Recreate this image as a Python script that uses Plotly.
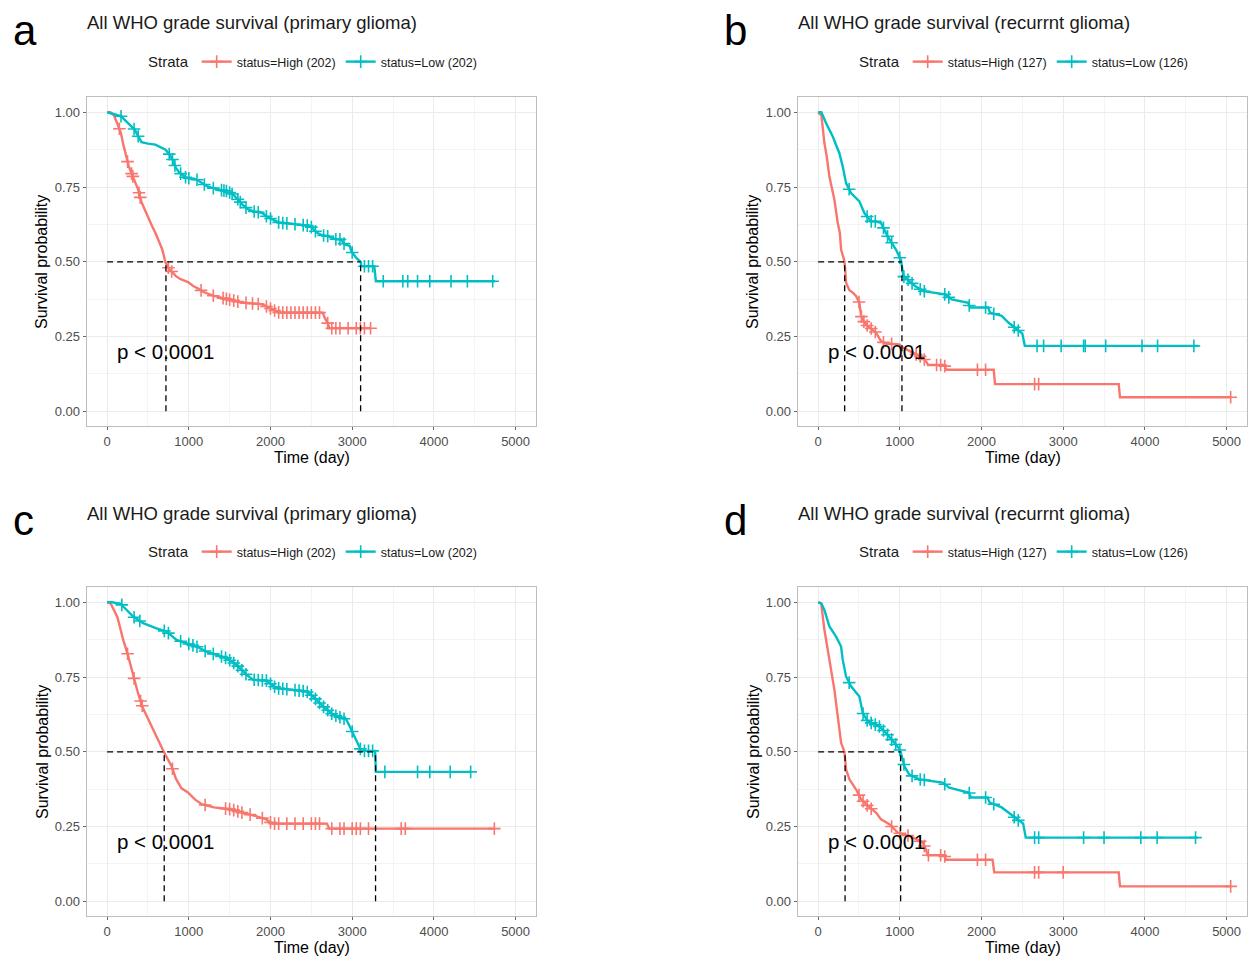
import numpy as np
import plotly.graph_objects as go

RED = "#F8766D"
CYAN = "#00BFC4"
FONT = "Liberation Sans"

# ---------------- data ----------------
# Panel a: primary glioma
a_high_t = [0, 40, 84, 130, 168, 200, 232, 265, 295, 340, 379, 420, 442, 480, 506, 550, 590, 640, 674, 716,
            760, 800, 842, 900, 990, 1053, 1120, 1179, 1306, 1474, 1643, 1896, 2022, 2106, 2640, 2660, 2700, 2720, 3225]
a_high_s = [1.0, 1.0, 0.99, 0.96, 0.931, 0.89, 0.853, 0.82, 0.798, 0.77, 0.742, 0.70, 0.686, 0.66, 0.642, 0.62, 0.597, 0.565, 0.542, 0.497,
            0.475, 0.465, 0.452, 0.442, 0.432, 0.419, 0.41, 0.399, 0.386, 0.375, 0.364, 0.358, 0.341, 0.330, 0.330, 0.315, 0.295, 0.278, 0.278]
a_low_t = [0, 60, 168, 250, 337, 380, 421, 500, 590, 716, 760, 800, 840, 885, 969, 1095, 1222, 1348, 1474, 1540,
           1601, 1660, 1727, 1800, 1896, 1960, 2022, 2106, 2317, 2485, 2540, 2570, 2642, 2696, 2806, 2864, 2907, 2970, 2990, 3033,
           3050, 3105, 3111, 3270, 3290, 4750]
a_low_s = [1.0, 0.995, 0.987, 0.965, 0.942, 0.92, 0.90, 0.895, 0.892, 0.875, 0.86, 0.842, 0.815, 0.798, 0.781, 0.775, 0.753, 0.742, 0.736, 0.725,
           0.709, 0.69, 0.675, 0.668, 0.664, 0.65, 0.642, 0.631, 0.625, 0.620, 0.605, 0.597, 0.588, 0.586, 0.575, 0.575, 0.558, 0.553, 0.535, 0.519,
           0.513, 0.500, 0.485, 0.485, 0.435, 0.435]
a_high_cens = [150, 250, 300, 315, 390, 405, 750, 790, 1150, 1300, 1420, 1460, 1500, 1550, 1600, 1700, 1780, 1850, 1950, 2000,
               2050, 2100, 2150, 2200, 2250, 2300, 2350, 2400, 2450, 2500, 2550, 2600, 2700, 2750, 2800, 2850, 2950, 3050, 3100,
               3150, 3225]
a_low_cens = [170, 330, 380, 760, 800, 830, 900, 960, 1000, 1100, 1190, 1300, 1400, 1430, 1460, 1500, 1530, 1600, 1630, 1700,
              1800, 1850, 1950, 2000, 2100, 2150, 2200, 2300, 2400, 2450, 2500, 2550, 2650, 2700, 2800, 2850, 2900, 3000, 3150,
              3200, 3250, 3380, 3620, 3680, 3800, 3950, 4210, 4410, 4720]
a_medians = [720, 3103]

# Panel b: recurrent glioma
b_high_t = [0, 40, 77, 105, 138, 170, 199, 240, 266, 281, 320, 330, 342, 383, 424, 464, 505, 526, 560, 607,
            660, 709, 770, 823, 994, 1034, 1116, 1200, 1279, 1329, 1345, 1544, 1570, 2150, 2165, 3680, 3695, 5060]
b_high_s = [1.0, 0.99, 0.897, 0.853, 0.785, 0.74, 0.708, 0.63, 0.597, 0.541, 0.505, 0.48, 0.43, 0.405, 0.397, 0.386, 0.363, 0.319, 0.30, 0.285,
            0.275, 0.263, 0.235, 0.227, 0.224, 0.214, 0.202, 0.19, 0.18, 0.164, 0.155, 0.155, 0.139, 0.139, 0.091, 0.091, 0.047, 0.047]
b_low_t = [0, 40, 98, 179, 260, 301, 342, 403, 505, 566, 648, 700, 770, 851, 953, 1015, 1043, 1100, 1186, 1288,
           1410, 1553, 1634, 1838, 1859, 2083, 2104, 2247, 2329, 2431, 2500, 2530, 4650]
b_low_s = [1.0, 1.0, 0.963, 0.919, 0.863, 0.819, 0.763, 0.73, 0.702, 0.663, 0.635, 0.635, 0.63, 0.585, 0.541, 0.505, 0.452, 0.44, 0.419, 0.402,
           0.397, 0.391, 0.374, 0.363, 0.347, 0.347, 0.33, 0.319, 0.297, 0.274, 0.26, 0.219, 0.219]
b_high_cens = [500, 530, 560, 600, 650, 700, 800, 900, 1200, 1250, 1300, 1450, 1500, 1550, 1950, 2050, 2650, 2700, 5050]
b_low_cens = [380, 600, 650, 700, 800, 850, 900, 1000, 1050, 1100, 1150, 1250, 1300, 1550, 1600, 1850, 2050, 2150, 2400, 2450,
              2680, 2760, 2975, 3250, 3270, 3520, 3965, 4155, 4600]
b_medians = [325, 1026]

# Panel c: primary glioma
c_high_t = [0, 45, 126, 197, 253, 316, 379, 441, 506, 564, 653, 699, 789, 842, 911, 990, 1074, 1158, 1306, 1516,
            1643, 1811, 1938, 2022, 2690, 2720, 4750]
c_high_s = [1.0, 0.995, 0.95, 0.874, 0.825, 0.76, 0.695, 0.645, 0.608, 0.574, 0.525, 0.497, 0.452, 0.41, 0.378, 0.364, 0.341, 0.325, 0.314, 0.308,
            0.297, 0.286, 0.275, 0.26, 0.26, 0.243, 0.243]
c_low_t = [0, 60, 168, 200, 319, 441, 605, 727, 850, 972, 1094, 1216, 1339, 1461, 1583, 1705, 1786, 1950, 2072, 2439,
           2520, 2642, 2764, 2928, 2989, 3050, 3111, 3280, 3290, 4450]
c_low_s = [1.0, 1.0, 0.995, 0.985, 0.952, 0.93, 0.913, 0.902, 0.874, 0.863, 0.852, 0.835, 0.824, 0.813, 0.791, 0.758, 0.741, 0.738, 0.713, 0.702,
           0.685, 0.652, 0.624, 0.608, 0.574, 0.541, 0.503, 0.503, 0.433, 0.433]
c_high_cens = [250, 330, 410, 430, 800, 1200, 1450, 1500, 1550, 1600, 1650, 1750, 1900, 2000, 2050, 2100, 2200, 2300, 2400, 2500,
               2550, 2600, 2750, 2850, 2900, 3000, 3050, 3100, 3200, 3600, 3650, 4740]
c_low_cens = [180, 330, 400, 700, 750, 900, 1000, 1050, 1100, 1200, 1300, 1400, 1450, 1500, 1550, 1600, 1650, 1700, 1800, 1850,
              1900, 1950, 2000, 2050, 2100, 2150, 2200, 2300, 2350, 2400, 2450, 2500, 2550, 2600, 2650, 2700, 2750, 2800, 2850, 2900,
              3000, 3100, 3150, 3200, 3250, 3400, 3800, 3950, 4200, 4450]
c_medians = [699, 3286]

# Panel d: recurrent glioma
d_high_t = [0, 37, 77, 117, 159, 199, 240, 281, 322, 342, 383, 465, 526, 607, 709, 770, 872, 973, 1116, 1279,
            1320, 1340, 1544, 1565, 2135, 2156, 3680, 3695, 5060]
d_high_s = [1.0, 0.997, 0.908, 0.841, 0.763, 0.708, 0.619, 0.53, 0.5, 0.441, 0.408, 0.374, 0.341, 0.319, 0.297, 0.274, 0.258, 0.23, 0.219, 0.197,
            0.174, 0.154, 0.154, 0.139, 0.139, 0.097, 0.097, 0.05, 0.05]
d_low_t = [0, 40, 77, 138, 220, 281, 301, 342, 403, 505, 546, 607, 749, 831, 933, 994, 1010, 1055, 1116, 1238,
           1524, 1605, 1849, 1870, 2074, 2100, 2247, 2329, 2431, 2510, 2542, 4650]
d_low_s = [1.0, 0.995, 0.974, 0.919, 0.885, 0.852, 0.808, 0.752, 0.719, 0.685, 0.63, 0.602, 0.585, 0.563, 0.53, 0.51, 0.5, 0.452, 0.424, 0.408,
           0.397, 0.38, 0.363, 0.347, 0.347, 0.33, 0.314, 0.297, 0.274, 0.26, 0.213, 0.213]
d_high_cens = [500, 550, 600, 650, 900, 1000, 1100, 1250, 1300, 1350, 1500, 1550, 1950, 2050, 2650, 2700, 3000, 5050]
d_low_cens = [380, 550, 600, 650, 700, 750, 800, 850, 900, 950, 1000, 1050, 1150, 1250, 1300, 1550, 1850, 2050, 2150, 2400,
              2450, 2650, 2700, 3250, 3500, 3950, 4150, 4620]
d_medians = [330, 1010]

x_ticks = [0, 1000, 2000, 3000, 4000, 5000]
y_ticks = [0.0, 0.25, 0.5, 0.75, 1.0]

panel_letters = ["a", "b", "c", "d"]
panel_titles = ["All WHO grade survival (primary glioma)", "All WHO grade survival (recurrnt glioma)",
                "All WHO grade survival (primary glioma)", "All WHO grade survival (recurrnt glioma)"]
high_names = ["status=High (202)", "status=High (127)", "status=High (202)", "status=High (127)"]
low_names = ["status=Low (202)", "status=Low (126)", "status=Low (202)", "status=Low (126)"]
p_text = "p < 0.0001"

panels = [
    (a_high_t, a_high_s, a_high_cens, a_low_t, a_low_s, a_low_cens, a_medians),
    (b_high_t, b_high_s, b_high_cens, b_low_t, b_low_s, b_low_cens, b_medians),
    (c_high_t, c_high_s, c_high_cens, c_low_t, c_low_s, c_low_cens, c_medians),
    (d_high_t, d_high_s, d_high_cens, d_low_t, d_low_s, d_low_cens, d_medians),
]

# ---------------- layout geometry (pixels) ----------------
W, H = 1249, 956
boxes = [(86.7, 536.0, 97.3, 426.3), (797.7, 1247.0, 97.3, 426.3),
         (86.7, 536.0, 587.3, 916.3), (797.7, 1247.0, 587.3, 916.3)]
panel_offsets = [(0, 0), (711, 0), (0, 490), (711, 490)]


def fx(p):
    return p / W


def fy(p):
    return 1 - p / H


fig = go.Figure()
legend_ids = ["legend", "legend2", "legend3", "legend4"]

for i, (ht, hs, hc, lt, ls, lc, med) in enumerate(panels):
    sfx = "" if i == 0 else str(i + 1)
    xa, ya = "x" + sfx, "y" + sfx
    leg = legend_ids[i]
    for t, s, cens, col, nm in [(ht, hs, hc, RED, high_names[i]), (lt, ls, lc, CYAN, low_names[i])]:
        fig.add_trace(go.Scatter(x=t, y=s, mode="lines", line=dict(color=col, width=2.4),
                                 showlegend=False, xaxis=xa, yaxis=ya, hoverinfo="skip"))
        cy = np.interp(cens, t, s)
        fig.add_trace(go.Scatter(x=cens, y=cy, mode="markers",
                                 marker=dict(symbol="cross-thin", size=9, color=col,
                                             line=dict(color=col, width=1.6)),
                                 showlegend=False, xaxis=xa, yaxis=ya, hoverinfo="skip"))
        fig.add_trace(go.Scatter(x=[None], y=[None], mode="lines+markers", name=nm,
                                 line=dict(color=col, width=2.4),
                                 marker=dict(symbol="cross-thin", size=9, color=col,
                                             line=dict(color=col, width=1.6)),
                                 legend=leg, xaxis=xa, yaxis=ya))
    # median lines
    dash = dict(color="black", width=1.3, dash="6px,4px")
    fig.add_trace(go.Scatter(x=[0, max(med)], y=[0.5, 0.5], mode="lines", line=dash,
                             showlegend=False, xaxis=xa, yaxis=ya, hoverinfo="skip"))
    for m in med:
        fig.add_trace(go.Scatter(x=[m, m], y=[0, 0.5], mode="lines", line=dash,
                                 showlegend=False, xaxis=xa, yaxis=ya, hoverinfo="skip"))

    x0, x1, y0, y1 = boxes[i]
    ox, oy = panel_offsets[i]
    axcommon = dict(showline=True, mirror=True, linecolor="#BDBDBD", linewidth=1.2,
                    showgrid=True, gridcolor="#EBEBEB", gridwidth=1.1, zeroline=False,
                    ticks="outside", ticklen=3, tickwidth=1, tickcolor="#666666",
                    tickfont=dict(family=FONT, size=13, color="#4D4D4D"))
    fig.layout["xaxis" + sfx] = dict(domain=[fx(x0), fx(x1)], range=[-250, 5250], anchor=ya,
                                     tickvals=x_ticks,
                                     minor=dict(tickvals=[500, 1500, 2500, 3500, 4500], showgrid=True,
                                                gridcolor="#F4F4F4", gridwidth=0.7),
                                     **axcommon)
    fig.layout["yaxis" + sfx] = dict(domain=[fy(y1), fy(y0)], range=[-0.05, 1.05], anchor=xa,
                                     tickvals=y_ticks, tickformat=".2f",
                                     minor=dict(tickvals=[0.125, 0.375, 0.625, 0.875], showgrid=True,
                                                gridcolor="#F4F4F4", gridwidth=0.7),
                                     **axcommon)
    # legend
    fig.layout[leg] = dict(orientation="h", x=fx(ox + 314), xanchor="center",
                           y=fy(oy + 62), yanchor="middle", bgcolor="rgba(0,0,0,0)",
                           title=dict(text="Strata", font=dict(family=FONT, size=15, color="#1A1A1A"), side="left"),
                           font=dict(family=FONT, size=12.5, color="#1A1A1A"), itemwidth=30,
                           tracegroupgap=0)
    # annotations
    fig.add_annotation(text=panel_letters[i], x=fx(ox + 11), y=fy(oy + 30), xref="paper", yref="paper",
                       xanchor="left", yanchor="middle", showarrow=False,
                       font=dict(family=FONT, size=42, color="black"))
    fig.add_annotation(text=panel_titles[i], x=fx(ox + 85), y=fy(oy + 23), xref="paper", yref="paper",
                       xanchor="left", yanchor="middle", showarrow=False,
                       font=dict(family=FONT, size=18.5, color="#1A1A1A"))
    fig.add_annotation(text="Survival probability", x=fx(ox + 42), y=fy(oy + 262), xref="paper", yref="paper",
                       xanchor="center", yanchor="middle", textangle=-90, showarrow=False,
                       font=dict(family=FONT, size=16, color="black"))
    fig.add_annotation(text="Time (day)", x=fx(ox + 311.5), y=fy(oy + 457), xref="paper", yref="paper",
                       xanchor="center", yanchor="middle", showarrow=False,
                       font=dict(family=FONT, size=16, color="black"))
    fig.add_annotation(text=p_text, x=95, y=0.2, xref=xa, yref=ya, xanchor="left", yanchor="middle",
                       showarrow=False, font=dict(family=FONT, size=20.5, color="black"))

fig.update_layout(width=W, height=H, margin=dict(l=0, r=0, t=0, b=0),
                  paper_bgcolor="white", plot_bgcolor="white", showlegend=True,
                  font=dict(family=FONT))

fig.write_html("out.html")
